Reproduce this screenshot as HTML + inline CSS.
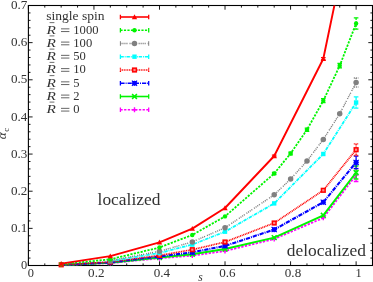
<!DOCTYPE html>
<html><head><meta charset="utf-8"><title>plot</title>
<style>html,body{margin:0;padding:0;background:#fff;overflow:hidden}body{width:373px;height:282px;font-family:"Liberation Serif",serif}</style></head>
<body>
<svg width="373" height="282" viewBox="0 0 373 282" style="display:block">
<rect width="373" height="282" fill="#fff"/>
<defs><filter id="soft" x="-5%" y="-5%" width="110%" height="110%"><feGaussianBlur stdDeviation="0.28"/></filter></defs>
<defs><clipPath id="cp"><rect x="22.4" y="5.5" width="356.1" height="272.0"/></clipPath></defs>
<rect x="28.4" y="5.5" width="344.1" height="260.0" fill="none" stroke="#000" stroke-width="1.1"/>
<path d="M28.40,265.5v-4.2M28.40,5.5v4.2M44.79,265.5v-2.1M44.79,5.5v2.1M61.17,265.5v-2.1M61.17,5.5v2.1M77.56,265.5v-2.1M77.56,5.5v2.1M93.94,265.5v-4.2M93.94,5.5v4.2M110.33,265.5v-2.1M110.33,5.5v2.1M126.71,265.5v-2.1M126.71,5.5v2.1M143.10,265.5v-2.1M143.10,5.5v2.1M159.49,265.5v-4.2M159.49,5.5v4.2M175.87,265.5v-2.1M175.87,5.5v2.1M192.26,265.5v-2.1M192.26,5.5v2.1M208.64,265.5v-2.1M208.64,5.5v2.1M225.03,265.5v-4.2M225.03,5.5v4.2M241.41,265.5v-2.1M241.41,5.5v2.1M257.80,265.5v-2.1M257.80,5.5v2.1M274.19,265.5v-2.1M274.19,5.5v2.1M290.57,265.5v-4.2M290.57,5.5v4.2M306.96,265.5v-2.1M306.96,5.5v2.1M323.34,265.5v-2.1M323.34,5.5v2.1M339.73,265.5v-2.1M339.73,5.5v2.1M356.11,265.5v-4.2M356.11,5.5v4.2M372.50,265.5v-2.1M372.50,5.5v2.1M28.4,265.50h4.2M372.5,265.50h-4.2M28.4,258.07h2.1M372.5,258.07h-2.1M28.4,250.64h2.1M372.5,250.64h-2.1M28.4,243.21h2.1M372.5,243.21h-2.1M28.4,235.79h2.1M372.5,235.79h-2.1M28.4,228.36h4.2M372.5,228.36h-4.2M28.4,220.93h2.1M372.5,220.93h-2.1M28.4,213.50h2.1M372.5,213.50h-2.1M28.4,206.07h2.1M372.5,206.07h-2.1M28.4,198.64h2.1M372.5,198.64h-2.1M28.4,191.21h4.2M372.5,191.21h-4.2M28.4,183.79h2.1M372.5,183.79h-2.1M28.4,176.36h2.1M372.5,176.36h-2.1M28.4,168.93h2.1M372.5,168.93h-2.1M28.4,161.50h2.1M372.5,161.50h-2.1M28.4,154.07h4.2M372.5,154.07h-4.2M28.4,146.64h2.1M372.5,146.64h-2.1M28.4,139.21h2.1M372.5,139.21h-2.1M28.4,131.79h2.1M372.5,131.79h-2.1M28.4,124.36h2.1M372.5,124.36h-2.1M28.4,116.93h4.2M372.5,116.93h-4.2M28.4,109.50h2.1M372.5,109.50h-2.1M28.4,102.07h2.1M372.5,102.07h-2.1M28.4,94.64h2.1M372.5,94.64h-2.1M28.4,87.21h2.1M372.5,87.21h-2.1M28.4,79.79h4.2M372.5,79.79h-4.2M28.4,72.36h2.1M372.5,72.36h-2.1M28.4,64.93h2.1M372.5,64.93h-2.1M28.4,57.50h2.1M372.5,57.50h-2.1M28.4,50.07h2.1M372.5,50.07h-2.1M28.4,42.64h4.2M372.5,42.64h-4.2M28.4,35.21h2.1M372.5,35.21h-2.1M28.4,27.79h2.1M372.5,27.79h-2.1M28.4,20.36h2.1M372.5,20.36h-2.1M28.4,12.93h2.1M372.5,12.93h-2.1M28.4,5.50h4.2M372.5,5.50h-4.2" stroke="#000" stroke-width="0.9" fill="none"/>
<g clip-path="url(#cp)">
<path d="M61.2,265.1 L110.3,263.1 L159.5,258.3 L192.3,255.6 L225.0,251.0 L274.2,239.0 L323.3,217.9 L356.1,175.0" fill="none" stroke="#ff00ff" stroke-width="1.8" stroke-dasharray="2.3 1.4" stroke-linejoin="round"/>
<path d="M110.3,260.7V265.5M107.9,263.1H112.7" stroke="#ff00ff" stroke-width="1.4" fill="none"/>
<path d="M159.5,255.9V260.7M157.1,258.3H161.9" stroke="#ff00ff" stroke-width="1.4" fill="none"/>
<path d="M192.3,253.2V258.0M189.9,255.6H194.7" stroke="#ff00ff" stroke-width="1.4" fill="none"/>
<path d="M225.0,248.6V253.4M222.6,251.0H227.4" stroke="#ff00ff" stroke-width="1.4" fill="none"/>
<path d="M274.2,236.6V241.4M271.8,239.0H276.6" stroke="#ff00ff" stroke-width="1.4" fill="none"/>
<path d="M323.3,215.5V220.3M320.9,217.9H325.7" stroke="#ff00ff" stroke-width="1.4" fill="none"/>
<path d="M356.1,168.5V181.5" stroke="#ff00ff" stroke-width="1.3" stroke-dasharray="2.3 1.4" fill="none"/>
<path d="M353.8,168.5h4.6M353.8,181.5h4.6" stroke="#ff00ff" stroke-width="1.3" fill="none"/>
<path d="M356.1,172.6V177.4M353.7,175.0H358.5" stroke="#ff00ff" stroke-width="1.4" fill="none"/>
<path d="M61.2,265.0 L110.3,262.8 L159.5,257.5 L192.3,254.2 L225.0,249.0 L274.2,237.6 L323.3,215.3 L356.1,172.5" fill="none" stroke="#00f400" stroke-width="2.0" stroke-linejoin="round"/>
<path d="M107.9,260.4L112.7,265.2M107.9,265.2L112.7,260.4" stroke="#00f400" stroke-width="1.5" fill="none"/>
<path d="M157.1,255.1L161.9,259.9M157.1,259.9L161.9,255.1" stroke="#00f400" stroke-width="1.5" fill="none"/>
<path d="M189.9,251.8L194.7,256.6M189.9,256.6L194.7,251.8" stroke="#00f400" stroke-width="1.5" fill="none"/>
<path d="M222.6,246.6L227.4,251.4M222.6,251.4L227.4,246.6" stroke="#00f400" stroke-width="1.5" fill="none"/>
<path d="M271.8,235.2L276.6,240.0M271.8,240.0L276.6,235.2" stroke="#00f400" stroke-width="1.5" fill="none"/>
<path d="M320.9,212.9L325.7,217.7M320.9,217.7L325.7,212.9" stroke="#00f400" stroke-width="1.5" fill="none"/>
<path d="M356.1,166.0V179.0" stroke="#00f400" stroke-width="1.3" fill="none"/>
<path d="M353.8,166.0h4.6M353.8,179.0h4.6" stroke="#00f400" stroke-width="1.3" fill="none"/>
<path d="M353.7,170.1L358.5,174.9M353.7,174.9L358.5,170.1" stroke="#00f400" stroke-width="1.5" fill="none"/>
<path d="M61.2,264.9 L110.3,262.4 L159.5,256.5 L192.3,252.3 L225.0,245.9 L274.2,229.6 L323.3,202.2 L356.1,162.4" fill="none" stroke="#0000ff" stroke-width="2.1" stroke-dasharray="4.2 1 1 1" stroke-linejoin="round"/>
<rect x="108.1" y="260.2" width="4.4" height="4.4" fill="#0000ff"/><path d="M107.7,259.8L112.9,265.0M107.7,265.0L112.9,259.8M110.3,259.8V265.0M107.7,262.4H112.9" stroke="#0000ff" stroke-width="1.1" fill="none"/>
<rect x="157.3" y="254.3" width="4.4" height="4.4" fill="#0000ff"/><path d="M156.9,253.9L162.1,259.1M156.9,259.1L162.1,253.9M159.5,253.9V259.1M156.9,256.5H162.1" stroke="#0000ff" stroke-width="1.1" fill="none"/>
<rect x="190.0" y="250.1" width="4.4" height="4.4" fill="#0000ff"/><path d="M189.7,249.7L194.9,254.9M189.7,254.9L194.9,249.7M192.3,249.7V254.9M189.7,252.3H194.9" stroke="#0000ff" stroke-width="1.1" fill="none"/>
<rect x="222.8" y="243.7" width="4.4" height="4.4" fill="#0000ff"/><path d="M222.4,243.3L227.6,248.5M222.4,248.5L227.6,243.3M225.0,243.3V248.5M222.4,245.9H227.6" stroke="#0000ff" stroke-width="1.1" fill="none"/>
<rect x="272.0" y="227.4" width="4.4" height="4.4" fill="#0000ff"/><path d="M271.6,227.0L276.8,232.2M271.6,232.2L276.8,227.0M274.2,227.0V232.2M271.6,229.6H276.8" stroke="#0000ff" stroke-width="1.1" fill="none"/>
<rect x="321.1" y="200.0" width="4.4" height="4.4" fill="#0000ff"/><path d="M320.7,199.6L325.9,204.8M320.7,204.8L325.9,199.6M323.3,199.6V204.8M320.7,202.2H325.9" stroke="#0000ff" stroke-width="1.1" fill="none"/>
<path d="M356.1,156.2V168.6" stroke="#0000ff" stroke-width="1.3" stroke-dasharray="4.2 1 1 1" fill="none"/>
<path d="M353.8,156.2h4.6M353.8,168.6h4.6" stroke="#0000ff" stroke-width="1.3" fill="none"/>
<rect x="353.9" y="160.2" width="4.4" height="4.4" fill="#0000ff"/><path d="M353.5,159.8L358.7,165.0M353.5,165.0L358.7,159.8M356.1,159.8V165.0M353.5,162.4H358.7" stroke="#0000ff" stroke-width="1.1" fill="none"/>
<path d="M61.2,264.8 L110.3,262.0 L159.5,255.4 L192.3,249.7 L225.0,242.0 L274.2,223.0 L323.3,190.3 L356.1,149.7" fill="none" stroke="#ff0000" stroke-width="1.7" stroke-dasharray="1 0.7" stroke-linejoin="round"/>
<rect x="58.6" y="262.2" width="5.2" height="5.2" fill="#ff0000"/><rect x="60.1" y="263.7" width="2.2" height="2.2" fill="#ff8a8a"/>
<rect x="107.7" y="259.4" width="5.2" height="5.2" fill="#ff0000"/><rect x="109.2" y="260.9" width="2.2" height="2.2" fill="#ff8a8a"/>
<rect x="156.9" y="252.8" width="5.2" height="5.2" fill="#ff0000"/><rect x="158.4" y="254.3" width="2.2" height="2.2" fill="#ff8a8a"/>
<rect x="189.7" y="247.1" width="5.2" height="5.2" fill="#ff0000"/><rect x="191.2" y="248.6" width="2.2" height="2.2" fill="#ff8a8a"/>
<rect x="222.4" y="239.4" width="5.2" height="5.2" fill="#ff0000"/><rect x="223.9" y="240.9" width="2.2" height="2.2" fill="#ff8a8a"/>
<rect x="271.6" y="220.4" width="5.2" height="5.2" fill="#ff0000"/><rect x="273.1" y="221.9" width="2.2" height="2.2" fill="#ff8a8a"/>
<rect x="320.7" y="187.7" width="5.2" height="5.2" fill="#ff0000"/><rect x="322.2" y="189.2" width="2.2" height="2.2" fill="#ff8a8a"/>
<path d="M356.1,143.9V155.5" stroke="#ff0000" stroke-width="1.3" stroke-dasharray="1 0.7" fill="none"/>
<path d="M353.8,143.9h4.6M353.8,155.5h4.6" stroke="#ff0000" stroke-width="1.3" stroke-dasharray="1 0.7" fill="none"/>
<rect x="353.5" y="147.1" width="5.2" height="5.2" fill="#ff0000"/><rect x="355.0" y="148.6" width="2.2" height="2.2" fill="#ff8a8a"/>
<path d="M110.3,261.2 L159.5,253.0 L192.3,244.6 L225.0,231.7 L274.2,203.4 L323.3,154.0 L356.1,102.5" fill="none" stroke="#00ffff" stroke-width="1.8" stroke-dasharray="3.4 0.9 0.9 0.9" stroke-linejoin="round"/>
<rect x="108.1" y="259.0" width="4.4" height="4.4" fill="#00ffff"/>
<rect x="157.3" y="250.8" width="4.4" height="4.4" fill="#00ffff"/>
<rect x="190.1" y="242.4" width="4.4" height="4.4" fill="#00ffff"/>
<rect x="222.8" y="229.5" width="4.4" height="4.4" fill="#00ffff"/>
<rect x="272.0" y="201.2" width="4.4" height="4.4" fill="#00ffff"/>
<rect x="321.1" y="151.8" width="4.4" height="4.4" fill="#00ffff"/>
<path d="M356.1,96.9V108.1" stroke="#00ffff" stroke-width="1.3" stroke-dasharray="3.4 0.9 0.9 0.9" fill="none"/>
<path d="M353.8,96.9h4.6M353.8,108.1h4.6" stroke="#00ffff" stroke-width="1.3" fill="none"/>
<rect x="353.9" y="100.3" width="4.4" height="4.4" fill="#00ffff"/>
<path d="M110.3,260.6 L159.5,251.3 L192.3,241.9 L225.0,227.8 L274.2,194.8 L290.6,179.0 L307.0,161.0 L323.3,139.4 L339.7,113.8 L356.1,82.5" fill="none" stroke="#808080" stroke-width="1.4" stroke-dasharray="1.1 0.9 1.1 0.9 1.1 0.9 1.1 2.0" stroke-linejoin="round"/>
<circle cx="110.3" cy="260.6" r="2.75" fill="#808080"/>
<circle cx="159.5" cy="251.3" r="2.75" fill="#808080"/>
<circle cx="192.3" cy="241.9" r="2.75" fill="#808080"/>
<circle cx="225.0" cy="227.8" r="2.75" fill="#808080"/>
<circle cx="274.2" cy="194.8" r="2.75" fill="#808080"/>
<circle cx="290.6" cy="179.0" r="2.75" fill="#808080"/>
<circle cx="307.0" cy="161.0" r="2.75" fill="#808080"/>
<circle cx="323.3" cy="139.4" r="2.75" fill="#808080"/>
<circle cx="339.7" cy="113.8" r="2.75" fill="#808080"/>
<path d="M356.1,78.0V87.0" stroke="#808080" stroke-width="1.3" stroke-dasharray="1.1 0.9 1.1 0.9 1.1 0.9 1.1 2.0" fill="none"/>
<path d="M353.8,78.0h4.6M353.8,87.0h4.6" stroke="#808080" stroke-width="1.3" stroke-dasharray="1.1 0.9 1.1 0.9 1.1 0.9 1.1 2.0" fill="none"/>
<circle cx="356.1" cy="82.5" r="2.75" fill="#808080"/>
<path d="M61.2,264.2 L110.3,259.3 L159.5,247.5 L192.3,235.0 L225.0,216.4 L274.2,173.5 L290.6,153.5 L307.0,129.7 L323.3,100.7 L339.7,65.7 L356.1,23.5" fill="none" stroke="#00f400" stroke-width="1.8" stroke-dasharray="2.2 1.3" stroke-linejoin="round"/>
<circle cx="61.2" cy="264.2" r="2.2" fill="#00f400"/>
<circle cx="110.3" cy="259.3" r="2.2" fill="#00f400"/>
<circle cx="159.5" cy="247.5" r="2.2" fill="#00f400"/>
<circle cx="192.3" cy="235.0" r="2.2" fill="#00f400"/>
<circle cx="225.0" cy="216.4" r="2.2" fill="#00f400"/>
<path d="M274.2,172.4V174.6" stroke="#00f400" stroke-width="1.3" stroke-dasharray="2.2 1.3" fill="none"/>
<path d="M271.9,172.4h4.6M271.9,174.6h4.6" stroke="#00f400" stroke-width="1.3" fill="none"/>
<circle cx="274.2" cy="173.5" r="2.2" fill="#00f400"/>
<path d="M290.6,152.2V154.8" stroke="#00f400" stroke-width="1.3" stroke-dasharray="2.2 1.3" fill="none"/>
<path d="M288.3,152.2h4.6M288.3,154.8h4.6" stroke="#00f400" stroke-width="1.3" fill="none"/>
<circle cx="290.6" cy="153.5" r="2.2" fill="#00f400"/>
<path d="M307.0,128.1V131.3" stroke="#00f400" stroke-width="1.3" stroke-dasharray="2.2 1.3" fill="none"/>
<path d="M304.7,128.1h4.6M304.7,131.3h4.6" stroke="#00f400" stroke-width="1.3" fill="none"/>
<circle cx="307.0" cy="129.7" r="2.2" fill="#00f400"/>
<path d="M323.3,98.7V102.7" stroke="#00f400" stroke-width="1.3" stroke-dasharray="2.2 1.3" fill="none"/>
<path d="M321.0,98.7h4.6M321.0,102.7h4.6" stroke="#00f400" stroke-width="1.3" fill="none"/>
<circle cx="323.3" cy="100.7" r="2.2" fill="#00f400"/>
<path d="M339.7,63.5V67.9" stroke="#00f400" stroke-width="1.3" stroke-dasharray="2.2 1.3" fill="none"/>
<path d="M337.4,63.5h4.6M337.4,67.9h4.6" stroke="#00f400" stroke-width="1.3" fill="none"/>
<circle cx="339.7" cy="65.7" r="2.2" fill="#00f400"/>
<path d="M356.1,17.8V29.2" stroke="#00f400" stroke-width="1.3" stroke-dasharray="2.2 1.3" fill="none"/>
<path d="M353.8,17.8h4.6M353.8,29.2h4.6" stroke="#00f400" stroke-width="1.3" fill="none"/>
<circle cx="356.1" cy="23.5" r="2.2" fill="#00f400"/>
<path d="M61.2,263.6 L110.3,256.1 L159.5,242.3 L192.3,228.6 L225.0,208.0 L274.2,156.0 L323.3,58.8 L356.1,-99.0" fill="none" stroke="#ff0000" stroke-width="1.9" stroke-linejoin="round"/>
<path d="M61.2,260.9 L63.9,265.8 L58.5,265.8Z" fill="#ff0000"/>
<path d="M110.3,253.4 L113.0,258.3 L107.6,258.3Z" fill="#ff0000"/>
<path d="M159.5,239.6 L162.2,244.5 L156.8,244.5Z" fill="#ff0000"/>
<path d="M192.3,225.9 L195.0,230.8 L189.6,230.8Z" fill="#ff0000"/>
<path d="M225.0,205.3 L227.7,210.2 L222.3,210.2Z" fill="#ff0000"/>
<path d="M274.2,155.2V156.8" stroke="#ff0000" stroke-width="1.3" fill="none"/>
<path d="M271.9,155.2h4.6M271.9,156.8h4.6" stroke="#ff0000" stroke-width="1.3" fill="none"/>
<path d="M274.2,153.3 L276.9,158.2 L271.5,158.2Z" fill="#ff0000"/>
<path d="M323.3,57.6V60.0" stroke="#ff0000" stroke-width="1.3" fill="none"/>
<path d="M321.0,57.6h4.6M321.0,60.0h4.6" stroke="#ff0000" stroke-width="1.3" fill="none"/>
<path d="M323.3,56.1 L326.0,61.0 L320.6,61.0Z" fill="#ff0000"/>
<path d="M356.1,-101.7 L358.8,-96.8 L353.4,-96.8Z" fill="#ff0000"/>
</g>
<g filter="url(#soft)">
<g font-family="'Liberation Serif', serif" font-size="12.4" fill="#333">
<text x="30.8" y="277.0" text-anchor="middle">0</text>
<text x="96.3" y="277.0" text-anchor="middle" textLength="16.4" lengthAdjust="spacingAndGlyphs">0.2</text>
<text x="161.9" y="277.0" text-anchor="middle" textLength="16.4" lengthAdjust="spacingAndGlyphs">0.4</text>
<text x="227.4" y="277.0" text-anchor="middle" textLength="16.4" lengthAdjust="spacingAndGlyphs">0.6</text>
<text x="293.0" y="277.0" text-anchor="middle" textLength="16.4" lengthAdjust="spacingAndGlyphs">0.8</text>
<text x="358.5" y="277.0" text-anchor="middle">1</text>
<text x="27.3" y="269.1" text-anchor="end">0</text>
<text x="27.3" y="232.0" text-anchor="end" textLength="16.4" lengthAdjust="spacingAndGlyphs">0.1</text>
<text x="27.3" y="194.8" text-anchor="end" textLength="16.4" lengthAdjust="spacingAndGlyphs">0.2</text>
<text x="27.3" y="157.7" text-anchor="end" textLength="16.4" lengthAdjust="spacingAndGlyphs">0.3</text>
<text x="27.3" y="120.5" text-anchor="end" textLength="16.4" lengthAdjust="spacingAndGlyphs">0.4</text>
<text x="27.3" y="83.4" text-anchor="end" textLength="16.4" lengthAdjust="spacingAndGlyphs">0.5</text>
<text x="27.3" y="46.2" text-anchor="end" textLength="16.4" lengthAdjust="spacingAndGlyphs">0.6</text>
<text x="27.3" y="9.1" text-anchor="end" textLength="16.4" lengthAdjust="spacingAndGlyphs">0.7</text>
</g>
<text x="200.6" y="281.2" text-anchor="middle" font-family="'Liberation Serif', serif" font-style="italic" font-size="11.5" fill="#333">s</text>
<g transform="translate(5.9,139.3) rotate(-90)" font-family="'Liberation Serif', serif" fill="#333"><text x="0" y="0" font-style="italic" font-size="13">α</text><text x="7.6" y="3.0" font-size="8.5">c</text></g>
<g font-family="'Liberation Serif', serif" font-size="17.4" fill="#333">
<text x="97.6" y="204.9">localized</text>
<text x="286.8" y="255.9">delocalized</text>
</g>
<g font-family="'Liberation Serif', serif" font-size="12.4" fill="#333">
<text x="46.2" y="20.3" textLength="58.4" lengthAdjust="spacingAndGlyphs">single spin</text>
<text x="46.6" y="33.5" font-style="italic" textLength="9.4" lengthAdjust="spacingAndGlyphs">R</text>
<path d="M61,28.85h8.4M61,31.55h8.4" stroke="#333" stroke-width="0.75"/>
<text x="73.3" y="33.5" textLength="25.2" lengthAdjust="spacingAndGlyphs">1000</text>
<path d="M49.6,22.6h4.8" stroke="#333" stroke-width="0.7"/>
<text x="46.6" y="46.8" font-style="italic" textLength="9.4" lengthAdjust="spacingAndGlyphs">R</text>
<path d="M61,42.10h8.4M61,44.80h8.4" stroke="#333" stroke-width="0.75"/>
<text x="73.3" y="46.8" textLength="18.9" lengthAdjust="spacingAndGlyphs">100</text>
<path d="M49.6,35.9h4.8" stroke="#333" stroke-width="0.7"/>
<text x="46.6" y="60.0" font-style="italic" textLength="9.4" lengthAdjust="spacingAndGlyphs">R</text>
<path d="M61,55.35h8.4M61,58.05h8.4" stroke="#333" stroke-width="0.75"/>
<text x="73.3" y="60.0" textLength="12.6" lengthAdjust="spacingAndGlyphs">50</text>
<path d="M49.6,49.1h4.8" stroke="#333" stroke-width="0.7"/>
<text x="46.6" y="73.3" font-style="italic" textLength="9.4" lengthAdjust="spacingAndGlyphs">R</text>
<path d="M61,68.60h8.4M61,71.30h8.4" stroke="#333" stroke-width="0.75"/>
<text x="73.3" y="73.3" textLength="12.6" lengthAdjust="spacingAndGlyphs">10</text>
<path d="M49.6,62.4h4.8" stroke="#333" stroke-width="0.7"/>
<text x="46.6" y="86.5" font-style="italic" textLength="9.4" lengthAdjust="spacingAndGlyphs">R</text>
<path d="M61,81.85h8.4M61,84.55h8.4" stroke="#333" stroke-width="0.75"/>
<text x="73.3" y="86.5" textLength="6.3" lengthAdjust="spacingAndGlyphs">5</text>
<path d="M49.6,75.6h4.8" stroke="#333" stroke-width="0.7"/>
<text x="46.6" y="99.8" font-style="italic" textLength="9.4" lengthAdjust="spacingAndGlyphs">R</text>
<path d="M61,95.10h8.4M61,97.80h8.4" stroke="#333" stroke-width="0.75"/>
<text x="73.3" y="99.8" textLength="6.3" lengthAdjust="spacingAndGlyphs">2</text>
<path d="M49.6,88.9h4.8" stroke="#333" stroke-width="0.7"/>
<text x="46.6" y="113.0" font-style="italic" textLength="9.4" lengthAdjust="spacingAndGlyphs">R</text>
<path d="M61,108.35h8.4M61,111.05h8.4" stroke="#333" stroke-width="0.75"/>
<text x="73.3" y="113.0" textLength="6.3" lengthAdjust="spacingAndGlyphs">0</text>
<path d="M49.6,102.1h4.8" stroke="#333" stroke-width="0.7"/>
</g>
</g>
<path d="M120.4,17.0H148.7" stroke="#ff0000" stroke-width="1.6" fill="none"/>
<path d="M120.4,14.7v4.6M148.7,14.7v4.6" stroke="#ff0000" stroke-width="1.3" fill="none"/>
<path d="M134.5,14.3 L137.2,19.2 L131.8,19.2Z" fill="#ff0000"/>
<path d="M120.4,30.2H148.7" stroke="#00f400" stroke-width="1.6" stroke-dasharray="2.2 1.3" fill="none"/>
<path d="M120.4,27.9v4.6M148.7,27.9v4.6" stroke="#00f400" stroke-width="1.3" fill="none"/>
<circle cx="134.5" cy="30.2" r="2.2" fill="#00f400"/>
<path d="M120.4,43.5H148.7" stroke="#808080" stroke-width="1.4" stroke-dasharray="1.1 0.9 1.1 0.9 1.1 0.9 1.1 2.0" fill="none"/>
<path d="M120.4,41.2v4.6M148.7,41.2v4.6" stroke="#808080" stroke-width="1.0" fill="none"/>
<circle cx="134.5" cy="43.5" r="2.75" fill="#808080"/>
<path d="M120.4,56.8H148.7" stroke="#00ffff" stroke-width="1.6" stroke-dasharray="3.4 0.9 0.9 0.9" fill="none"/>
<path d="M120.4,54.5v4.6M148.7,54.5v4.6" stroke="#00ffff" stroke-width="1.3" fill="none"/>
<rect x="132.3" y="54.5" width="4.4" height="4.4" fill="#00ffff"/>
<path d="M120.4,70.0H148.7" stroke="#ff0000" stroke-width="1.6" stroke-dasharray="1 0.7" fill="none"/>
<path d="M120.4,67.7v4.6M148.7,67.7v4.6" stroke="#ff0000" stroke-width="1.3" stroke-dasharray="1 0.7" fill="none"/>
<rect x="131.9" y="67.4" width="5.2" height="5.2" fill="#ff0000"/><rect x="133.4" y="68.9" width="2.2" height="2.2" fill="#ff8a8a"/>
<path d="M120.4,83.2H148.7" stroke="#0000ff" stroke-width="1.6" stroke-dasharray="4.2 1 1 1" fill="none"/>
<path d="M120.4,81.0v4.6M148.7,81.0v4.6" stroke="#0000ff" stroke-width="1.3" fill="none"/>
<rect x="132.3" y="81.0" width="4.4" height="4.4" fill="#0000ff"/><path d="M131.9,80.7L137.1,85.8M131.9,85.8L137.1,80.7M134.5,80.7V85.8M131.9,83.2H137.1" stroke="#0000ff" stroke-width="1.1" fill="none"/>
<path d="M120.4,96.5H148.7" stroke="#00f400" stroke-width="1.6" fill="none"/>
<path d="M120.4,94.2v4.6M148.7,94.2v4.6" stroke="#00f400" stroke-width="1.3" fill="none"/>
<path d="M132.1,94.1L136.9,98.9M132.1,98.9L136.9,94.1" stroke="#00f400" stroke-width="1.5" fill="none"/>
<path d="M120.4,109.8H148.7" stroke="#ff00ff" stroke-width="1.6" stroke-dasharray="2.3 1.4" fill="none"/>
<path d="M120.4,107.5v4.6M148.7,107.5v4.6" stroke="#ff00ff" stroke-width="1.3" fill="none"/>
<path d="M134.5,107.3V112.2M132.1,109.8H136.9" stroke="#ff00ff" stroke-width="1.4" fill="none"/>
</svg>
</body></html>
